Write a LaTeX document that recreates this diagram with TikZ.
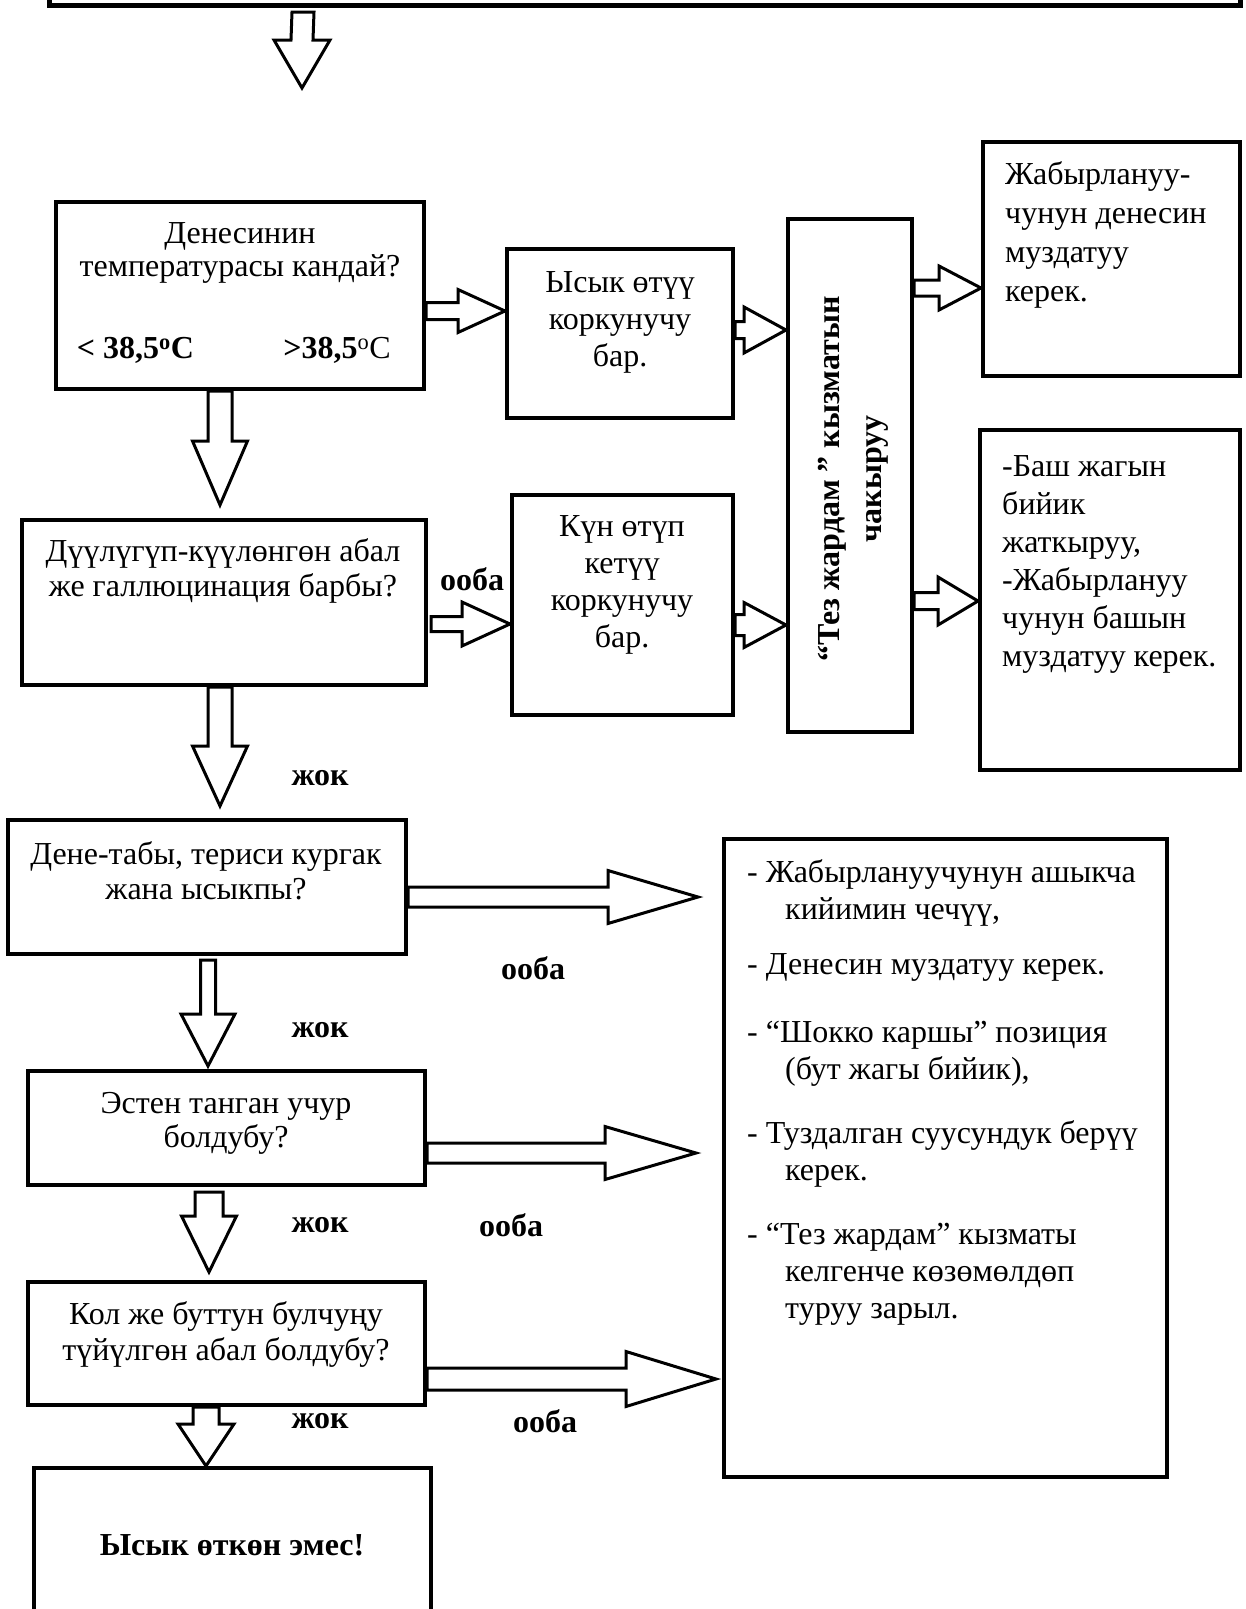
\documentclass[tikz,border=0pt]{standalone}
\usepackage{fontspec}
\setmainfont{Liberation Serif}
\usetikzlibrary{calc}
\newcommand{\boxfont}{\fontsize{32}{36}\selectfont}
\tikzset{box/.style={draw, line width=4pt, inner sep=0pt},
  txt/.style={align=center, inner sep=0pt, font=\boxfont},
  lbl/.style={inner sep=0pt, font=\boxfont\bfseries},
  fat/.style={draw, fill=white, line width=3pt, line join=miter}}
% hollow block arrows: tail, tip, shaft half width, head half width, head length
\newcommand{\rarrow}[5]{%
  \coordinate (tail) at (#1); \coordinate (tip) at (#2);
  \draw[fat] ($(tail)+(0,-#3)$) -- ($(tip)+(-#5,-#3)$) -- ($(tip)+(-#5,-#4)$) -- (tip)
    -- ($(tip)+(-#5,#4)$) -- ($(tip)+(-#5,#3)$) -- ($(tail)+(0,#3)$) -- cycle;}
\newcommand{\darrow}[5]{%
  \coordinate (tail) at (#1); \coordinate (tip) at (#2);
  \draw[fat] ($(tail)+(-#3,0)$) -- ($(tip)+(-#3,-#5)$) -- ($(tip)+(-#4,-#5)$) -- (tip)
    -- ($(tip)+(#4,-#5)$) -- ($(tip)+(#3,-#5)$) -- ($(tail)+(#3,0)$) -- cycle;}

\begin{document}
\begin{tikzpicture}[x=1pt, y=-1pt]
   \useasboundingbox (0,0) rectangle (1245,1609);
   % boxes
   \node[box, line width=5pt, minimum width=1191pt, minimum height=60pt] (ttl) at (644.5,-24.5) {};
   \node[box, minimum width=368pt, minimum height=187pt] (temp) at (240,295.5) {};
   \node[box, minimum width=226pt, minimum height=169pt] (ysyk) at (620,333.5) {};
   \node[box, minimum width=221pt, minimum height=220pt] (kun) at (622.5,605) {};
   \node[box, minimum width=124pt, minimum height=513pt] (tez) at (850,475.5) {};
   \node[box, minimum width=257pt, minimum height=234pt] (muz) at (1111.5,259) {};
   \node[box, minimum width=260pt, minimum height=340pt] (bash) at (1110,600) {};
   \node[box, minimum width=404pt, minimum height=165pt] (duu) at (224,602.5) {};
   \node[box, minimum width=398pt, minimum height=134pt] (dene) at (207,887) {};
   \node[box, minimum width=397pt, minimum height=114pt] (esten) at (226.5,1128) {};
   \node[box, minimum width=397pt, minimum height=123pt] (kol) at (226.5,1343.5) {};
   \node[box, minimum width=397pt, minimum height=172pt] (emes) at (232.5,1554) {};
   \node[box, minimum width=443pt, minimum height=638pt] (help) at (945.5,1158) {};
   % texts
   \node[txt, font=\fontsize{32}{33}\selectfont] (tempT) at (240,253) {Денесинин\\температурасы кандай?};
   \node[lbl] (lo) at (135.5,350) {< 38,5\textsuperscript{o}C};
   \node[txt] (hi) at (337,350) {\textbf{>38,5}\textsuperscript{o}C};
   \node[txt, font=\fontsize{32}{37}\selectfont] (ysykT) at (620,322) {Ысык өтүү\\коркунучу\\бар.};
   \node[txt, font=\fontsize{32}{37}\selectfont] (kunT) at (622,585) {Күн өтүп\\кетүү\\коркунучу\\бар.};
   \node[txt, font=\fontsize{32}{42}\selectfont\bfseries, rotate=90] (tezT) at (853,479) {“Тез жардам ” кызматын\\чакыруу};
   \node[txt, align=left, anchor=west, font=\fontsize{32}{39}\selectfont] (muzT) at (1005,235) {Жабырлануу-\\чунун денесин\\муздатуу\\керек.};
   \node[txt, align=left, anchor=west, font=\fontsize{32}{38}\selectfont] (bashT) at (1002,564) {-Баш жагын\\бийик\\жаткыруу,\\-Жабырлануу\\чунун башын\\муздатуу керек.};
   \node[txt, font=\fontsize{32}{35}\selectfont] (duuT) at (223,571) {Дүүлүгүп-күүлөнгөн абал\\же галлюцинация барбы?};
   \node[txt, font=\fontsize{32}{35}\selectfont] (deneT) at (206,870.5) {Дене-табы, териси кургак\\жана ысыкпы?};
   \node[txt, font=\fontsize{32}{34}\selectfont] (estenT) at (226,1123) {Эстен танган учур\\болдубу?};
   \node[txt] (kolT) at (226,1334) {Кол же буттун булчуңу\\түйүлгөн абал болдубу?};
   \node[lbl] (emesT) at (232,1545) {Ысык өткөн эмес!};
   \node[txt, align=left, anchor=west, font=\fontsize{32}{37}\selectfont] (helpT) at (747,1092)
     {- Жабырлануучунун ашыкча\\\hspace*{38pt}кийимин чечүү,\\[18pt]
      - Денесин муздатуу керек.\\[31pt]
      - “Шокко каршы” позиция\\\hspace*{38pt}(бут жагы бийик),\\[27pt]
      - Туздалган суусундук берүү\\\hspace*{38pt}керек.\\[27pt]
      - “Тез жардам” кызматы\\\hspace*{38pt}келгенче көзөмөлдөп\\\hspace*{38pt}туруу зарыл.};
   % answers
   \node[lbl] (yes1) at (472,579) {ооба};
   \node[lbl] (no1) at (320,778) {жок};
   \node[lbl] (yes2) at (533,968) {ооба};
   \node[lbl] (no2) at (320,1030) {жок};
   \node[lbl] (no3) at (320,1225) {жок};
   \node[lbl] (yes3) at (511,1225) {ооба};
   \node[lbl] (no4) at (320,1421) {жок};
   \node[lbl] (yes4) at (545,1421) {ооба};
   % arrows
   \coordinate (drop) at (302,88);
   \darrow{$(ttl.south -| 303,0)+(0,4)$}{drop}{11}{28}{48}
   \darrow{temp.south -| 220,0}{$(duu.north -| 220,0)+(0,-13)$}{12}{27.5}{64}
   \rarrow{temp.east |- 0,311}{ysyk.west |- 0,311}{8.5}{21.5}{47}
   \rarrow{ysyk.east |- 0,330}{tez.west |- 0,330}{8.5}{23}{42}
   \rarrow{$(duu.east |- 0,624)+(3,0)$}{kun.west |- 0,624}{7.5}{22}{48}
   \rarrow{kun.east |- 0,625}{tez.west |- 0,625}{10.5}{22.5}{42}
   \rarrow{tez.east |- 0,288}{muz.west |- 0,288}{8}{22}{42}
   \rarrow{tez.east |- 0,601}{bash.west |- 0,601}{8.5}{24}{40}
   \darrow{duu.south -| 220,0}{$(dene.north -| 220,0)+(0,-12)$}{12}{27.5}{60}
   \rarrow{dene.east |- 0,897}{$(help.west |- 0,897)+(-24,0)$}{10}{26.5}{90}
   \darrow{$(dene.south -| 208,0)+(0,4)$}{$(esten.north -| 208,0)+(0,-3)$}{7.5}{27}{52}
   \rarrow{esten.east |- 0,1153}{$(help.west |- 0,1153)+(-26,0)$}{10}{26.5}{91}
   \darrow{$(esten.south -| 209,0)+(0,5)$}{$(kol.north -| 209,0)+(0,-8)$}{14}{27.5}{56}
   \rarrow{kol.east |- 0,1379}{$(help.west |- 0,1379)+(-6,0)$}{11}{27.5}{90}
   \darrow{kol.south -| 206,0}{emes.north -| 206,0}{13}{28}{42}
\end{tikzpicture}
\end{document}
